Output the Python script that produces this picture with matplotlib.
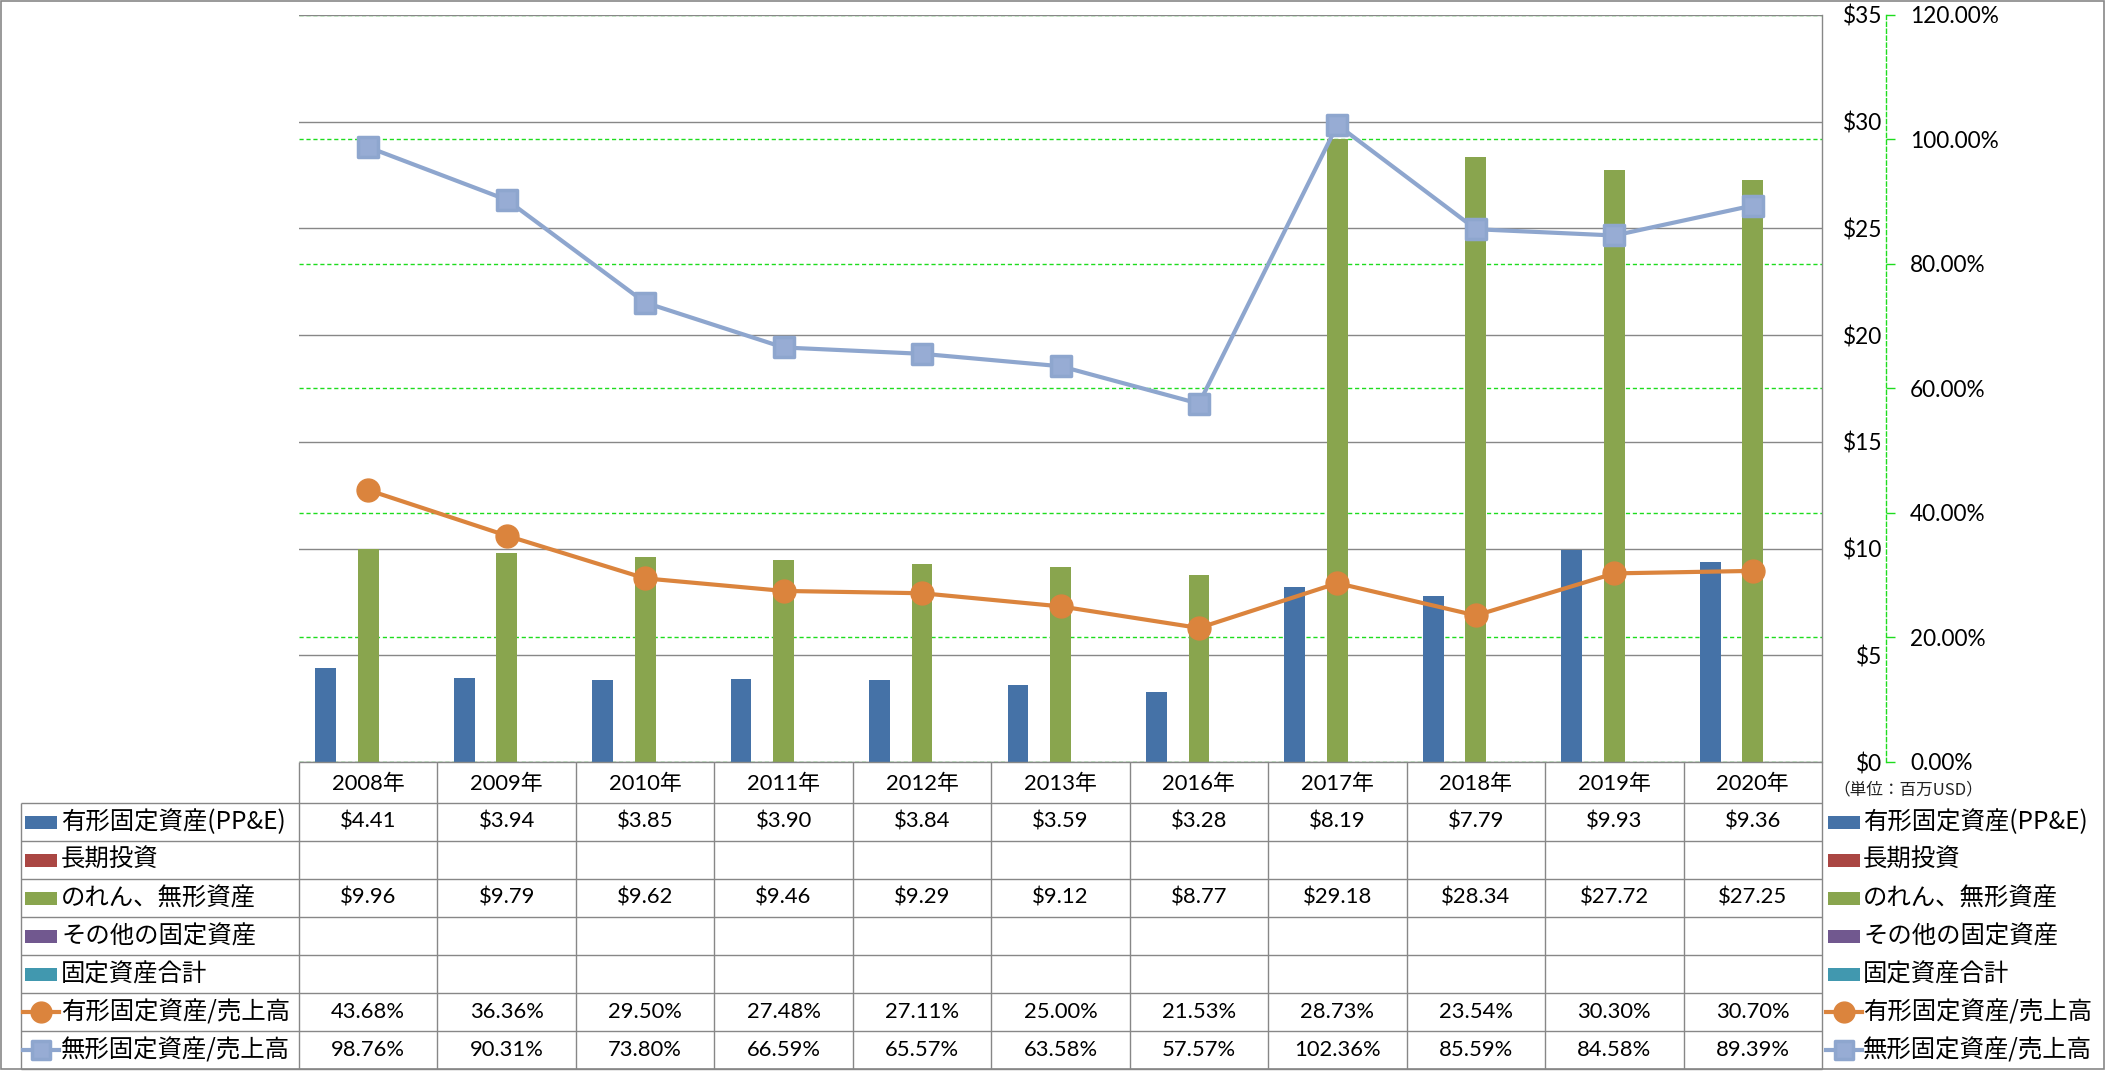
import numpy as np
import matplotlib
matplotlib.use('Agg')
import matplotlib.pyplot as plt
from matplotlib.patches import Rectangle
from matplotlib.markers import MarkerStyle

# ---------------- data ----------------
years = ['2008年', '2009年', '2010年', '2011年', '2012年', '2013年',
         '2016年', '2017年', '2018年', '2019年', '2020年']
ppe = [4.41, 3.94, 3.85, 3.90, 3.84, 3.59, 3.28, 8.19, 7.79, 9.93, 9.36]
long_inv = [None] * 11
goodwill = [9.96, 9.79, 9.62, 9.46, 9.29, 9.12, 8.77, 29.18, 28.34, 27.72, 27.25]
other_fa = [None] * 11
total_fa = [None] * 11
ppe_ratio = [43.68, 36.36, 29.50, 27.48, 27.11, 25.00, 21.53, 28.73, 23.54, 30.30, 30.70]
intang_ratio = [98.76, 90.31, 73.80, 66.59, 65.57, 63.58, 57.57, 102.36, 85.59, 84.58, 89.39]

bar_names = ['有形固定資産(PP&E)', '長期投資', 'のれん、無形資産', 'その他の固定資産', '固定資産合計']
line_names = ['有形固定資産/売上高', '無形固定資産/売上高']
y1_ticks = [0, 5, 10, 15, 20, 25, 30, 35]
y2_ticks = [0, 20, 40, 60, 80, 100, 120]
unit_label = '（単位：百万USD）'

# ---------------- style ----------------
plt.rcParams['font.family'] = ['Lato', 'Noto Sans CJK JP', 'DejaVu Sans']
CJK = ['Noto Sans CJK JP', 'DejaVu Sans']
W, H = 2106, 1071
DPI = 100
C_BLUE = '#4572A7'
C_RED = '#AA4643'
C_GREEN = '#89A54E'
C_PURPLE = '#71588F'
C_TEAL = '#4198AF'
C_ORANGE = '#DB843D'
C_LBLUE = '#8EA6CE'
C_LBLUE_F = '#97ACD4'
C_GRID = '#878787'
C_DASH = '#1EDC1E'
FS_NUM = 15.8
FS_AX = 16.3
FS_LBL = 17.6

fig = plt.figure(figsize=(W / DPI, H / DPI), dpi=DPI)

PL, PR, PT, PB = 299, 1822, 15, 762
pos = [PL / W, (H - PB) / H, (PR - PL) / W, (PB - PT) / H]
ax = fig.add_axes(pos)
ax2 = ax.twinx()
ax3 = ax.twinx()
ax2.set_zorder(1)
ax.set_zorder(2)
ax3.set_zorder(3)
for a in (ax, ax2, ax3):
    a.patch.set_visible(False)

n = len(years)
x = np.arange(n)
slot = 0.1535

bar_series = [(ppe, C_BLUE), (long_inv, C_RED), (goodwill, C_GREEN),
              (other_fa, C_PURPLE), (total_fa, C_TEAL)]
for k, (vals, col) in enumerate(bar_series):
    v = np.array([np.nan if a is None else a for a in vals], dtype=float)
    if np.all(np.isnan(v)):
        continue
    ax.bar(x + (k - 2) * slot, v, width=slot * 0.98, color=col, zorder=2, linewidth=0)

ax.set_xlim(-0.5, n - 0.5)
ax.set_ylim(0, 35)
ax.set_yticks(y1_ticks)
ax.set_yticklabels([f'${t}' for t in y1_ticks])
ax.tick_params(axis='y', left=False, labelleft=False, right=False, labelright=True,
               pad=40, labelsize=FS_AX, colors='black')
plt.setp(ax.get_yticklabels(), ha='right')
ax.yaxis.grid(True, color=C_GRID, lw=1.0)
ax.set_axisbelow(True)
ax.set_xticks([])
for s in ['left', 'top', 'bottom']:
    ax.spines[s].set_visible(False)
ax.spines['right'].set_color(C_GRID)
ax.spines['right'].set_linewidth(1.0)

# secondary axis (grid + labels)
ax2.set_ylim(0, 120)
ax2.set_yticks(y2_ticks)
ax2.set_yticklabels([f'{t:.2f}%' for t in y2_ticks])
ax2.yaxis.grid(True, color=C_DASH, lw=1.0, ls=(0, (3, 2)))
ax2.tick_params(axis='y', right=True, labelright=True, left=False, labelleft=False,
                direction='out', length=6.5, width=1.0, color=C_DASH, pad=11,
                labelsize=FS_AX, labelcolor='black')
for s in ['left', 'top', 'bottom']:
    ax2.spines[s].set_visible(False)
ax2.spines['right'].set_position(('outward', 46))
ax2.spines['right'].set_color(C_DASH)
ax2.spines['right'].set_linestyle((0, (3, 2)))
ax2.spines['right'].set_linewidth(1.0)
ax2.set_xticks([])

# lines axis
ax3.set_ylim(0, 120)
ax3.set_yticks([])
ax3.set_xticks([])
for s in ax3.spines.values():
    s.set_visible(False)
circ = MarkerStyle('o')
sq = MarkerStyle('s', joinstyle='round')
ax3.plot(x, ppe_ratio, color=C_ORANGE, lw=3, marker=circ, markersize=16.5,
         markerfacecolor=C_ORANGE, markeredgecolor=C_ORANGE, solid_capstyle='round')
ax3.plot(x, intang_ratio, color=C_LBLUE, lw=3, marker=sq, markersize=14.5,
         markerfacecolor=C_LBLUE_F, markeredgecolor=C_LBLUE, markeredgewidth=2.5,
         solid_capstyle='round')

# ---------------- table overlay (pixel coordinates) ----------------
pax = fig.add_axes([0, 0, 1, 1], zorder=10)
pax.set_xlim(0, W)
pax.set_ylim(H, 0)
pax.axis('off')
pax.patch.set_visible(False)

def xpix(xd):
    return ax.transData.transform((xd, 0))[0]

edges = [xpix(i - 0.5) for i in range(n + 1)]
centers = [xpix(i) for i in range(n)]

HDR_T, HDR_B = 762, 803
ROW_H = 38
rows_top = [HDR_B + ROW_H * r for r in range(8)]
TL = 21

lkw = dict(color=C_GRID, lw=1.0, solid_capstyle='butt')
pax.plot([edges[0], edges[-1]], [HDR_T, HDR_T], **lkw)
for e in edges:
    pax.plot([e, e], [HDR_T, rows_top[-1]], **lkw)
pax.plot([TL, TL], [rows_top[0], rows_top[-1]], **lkw)
for yt in rows_top:
    pax.plot([TL, edges[-1]], [yt, yt], **lkw)

for i in range(n):
    pax.text(centers[i], (HDR_T + HDR_B) / 2 + 1, years[i], ha='center', va='center',
             fontsize=FS_NUM)

def fmt_money(v):
    return '' if v is None else f'${v:.2f}'

def fmt_pct(v):
    return '' if v is None else f'{v:.2f}%'

table_rows = [
    [fmt_money(v) for v in ppe],
    [fmt_money(v) for v in long_inv],
    [fmt_money(v) for v in goodwill],
    [fmt_money(v) for v in other_fa],
    [fmt_money(v) for v in total_fa],
    [fmt_pct(v) for v in ppe_ratio],
    [fmt_pct(v) for v in intang_ratio],
]
for r, cells in enumerate(table_rows):
    yc = rows_top[r] + ROW_H / 2
    for i, t in enumerate(cells):
        if t:
            pax.text(centers[i], yc, t, ha='center', va='center', fontsize=FS_NUM)

def draw_key(x0, yc, r):
    if r < 5:
        col = [C_BLUE, C_RED, C_GREEN, C_PURPLE, C_TEAL][r]
        pax.add_patch(Rectangle((x0, yc - 6.5), 32, 13, color=col, lw=0))
    elif r == 5:
        pax.plot([x0 - 2, x0 + 34], [yc, yc], color=C_ORANGE, lw=3)
        pax.plot([x0 + 16], [yc], marker=circ, markersize=15, color=C_ORANGE)
    else:
        pax.plot([x0 - 2, x0 + 34], [yc, yc], color=C_LBLUE, lw=3)
        pax.plot([x0 + 16], [yc], marker=sq, markersize=13, markerfacecolor=C_LBLUE_F,
                 markeredgecolor=C_LBLUE, markeredgewidth=2.5)

names = bar_names + line_names
for r, nm in enumerate(names):
    yc = rows_top[r] + ROW_H / 2
    draw_key(25, yc, r)
    pax.text(61, yc, nm, ha='left', va='center', fontsize=FS_LBL, family=CJK)
    draw_key(1828, yc, r)
    pax.text(1863, yc, nm, ha='left', va='center', fontsize=FS_LBL, family=CJK)

pax.text(1833, 790, unit_label, ha='left', va='center', fontsize=12, color='#222222',
         family=CJK)

# outer frame
pax.add_patch(Rectangle((1, 1), W - 3, 1068, fill=False, edgecolor=C_GRID, lw=1.2))

fig.savefig('out.png', dpi=DPI)
